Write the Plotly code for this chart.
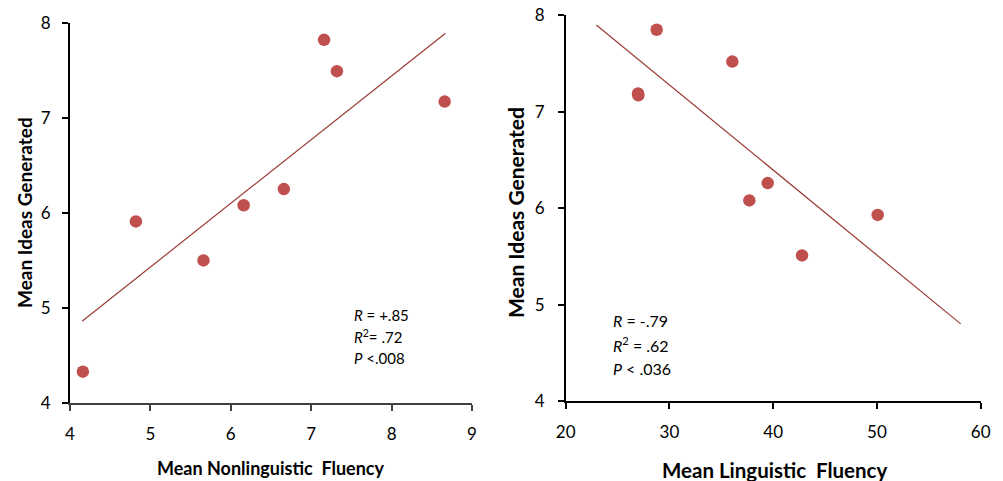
import plotly.graph_objects as go

# ---- data ----
left_x = [4.16, 4.82, 5.66, 6.16, 6.66, 7.16, 7.32, 8.66]
left_y = [4.33, 5.91, 5.50, 6.08, 6.25, 7.82, 7.49, 7.17]
left_trend_x = [4.15, 8.67]
left_trend_y = [4.86, 7.89]

right_x = [26.97, 27.0, 28.77, 36.06, 37.70, 39.47, 42.78, 50.07]
right_y = [7.19, 7.17, 7.85, 7.52, 6.08, 6.26, 5.51, 5.93]
right_trend_x = [22.95, 58.07]
right_trend_y = [7.90, 4.80]

left_xticks = [4, 5, 6, 7, 8, 9]
right_xticks = [20, 30, 40, 50, 60]
yticks = [4, 5, 6, 7, 8]

left_stats = ["<i>R</i> = +.85", "<i>R</i><sup>2</sup>= .72", "<i>P</i> &lt;.008"]
right_stats = ["<i>R</i> = -.79", "<i>R</i><sup>2</sup> = .62", "<i>P</i> &lt; .036"]

W, H = 1003, 481
marker_color = "#C0504D"
line_color = "#9B3A36"
FONT = "Lato, 'Open Sans', sans-serif"

fig = go.Figure()
fig.add_trace(go.Scatter(x=left_trend_x, y=left_trend_y, mode="lines",
                         line=dict(color=line_color, width=1.2), xaxis="x", yaxis="y",
                         hoverinfo="skip"))
fig.add_trace(go.Scatter(x=left_x, y=left_y, mode="markers",
                         marker=dict(color=marker_color, size=12.5), xaxis="x", yaxis="y"))
fig.add_trace(go.Scatter(x=right_trend_x, y=right_trend_y, mode="lines",
                         line=dict(color=line_color, width=1.2), xaxis="x2", yaxis="y2",
                         hoverinfo="skip"))
fig.add_trace(go.Scatter(x=right_x, y=right_y, mode="markers",
                         marker=dict(color=marker_color, size=12.5), xaxis="x2", yaxis="y2"))

def px(x):
    return x / W

def py(y):
    return 1 - y / H

axis_common = dict(showgrid=False, zeroline=False, ticks="outside", ticklen=6,
                   showline=True, automargin=False,
                   tickfont=dict(family=FONT, size=17, color="#000"))

fig.update_layout(
    width=W, height=H, margin=dict(l=0, r=0, t=0, b=0, autoexpand=False),
    paper_bgcolor="white", plot_bgcolor="white", showlegend=False,
    font=dict(family=FONT, color="#000"),
    xaxis=dict(domain=[px(70), px(472)], range=[4, 9], tickvals=left_xticks,
               anchor="y", linecolor="#404040", linewidth=1.5, tickcolor="#404040",
               tickwidth=1.5, ticklabelstandoff=9, **axis_common),
    yaxis=dict(domain=[py(403), py(22.7)], range=[4, 8], tickvals=yticks,
               anchor="x", linecolor="#000", linewidth=2, tickcolor="#000",
               tickwidth=1.5, ticklabelstandoff=8, **axis_common),
    xaxis2=dict(domain=[px(565.7), px(980.7)], range=[20, 60], tickvals=right_xticks,
                anchor="y2", linecolor="#000", linewidth=1.5, tickcolor="#000",
                tickwidth=1.5, ticklabelstandoff=9, **axis_common),
    yaxis2=dict(domain=[py(401), py(15.3)], range=[4, 8], tickvals=yticks,
                anchor="x2", linecolor="#000", linewidth=1.5, tickcolor="#000",
                tickwidth=1.5, ticklabelstandoff=10, **axis_common),
)

ann = []
# axis titles
ann.append(dict(text="<b>Mean Nonlinguistic  Fluency</b>", x=px(271), y=py(468),
                font=dict(family=FONT, size=18)))
ann.append(dict(text="<b>Mean Linguistic  Fluency</b>", x=px(774), y=py(470),
                font=dict(family=FONT, size=20.5)))
ann.append(dict(text="<b>Mean Ideas Generated</b>", x=px(25), y=py(213), textangle=-90,
                font=dict(family=FONT, size=19)))
ann.append(dict(text="<b>Mean Ideas Generated</b>", x=px(516), y=py(213), textangle=-90,
                font=dict(family=FONT, size=21)))
for a in ann:
    a.update(xref="paper", yref="paper", showarrow=False, xanchor="center", yanchor="middle")

for i, t in enumerate(left_stats):
    ann.append(dict(text=t, x=px(352), y=py(315 + 21.5 * i), xref="paper", yref="paper",
                    showarrow=False, xanchor="left", yanchor="middle",
                    font=dict(family=FONT, size=15)))
for i, t in enumerate(right_stats):
    ann.append(dict(text=t, x=px(611), y=py(320 + 24 * i), xref="paper", yref="paper",
                    showarrow=False, xanchor="left", yanchor="middle",
                    font=dict(family=FONT, size=16)))
fig.update_layout(annotations=ann)

fig.write_html("out.html", config={"displayModeBar": False},
               post_script="document.body.style.margin='0';document.body.style.padding='0';")
